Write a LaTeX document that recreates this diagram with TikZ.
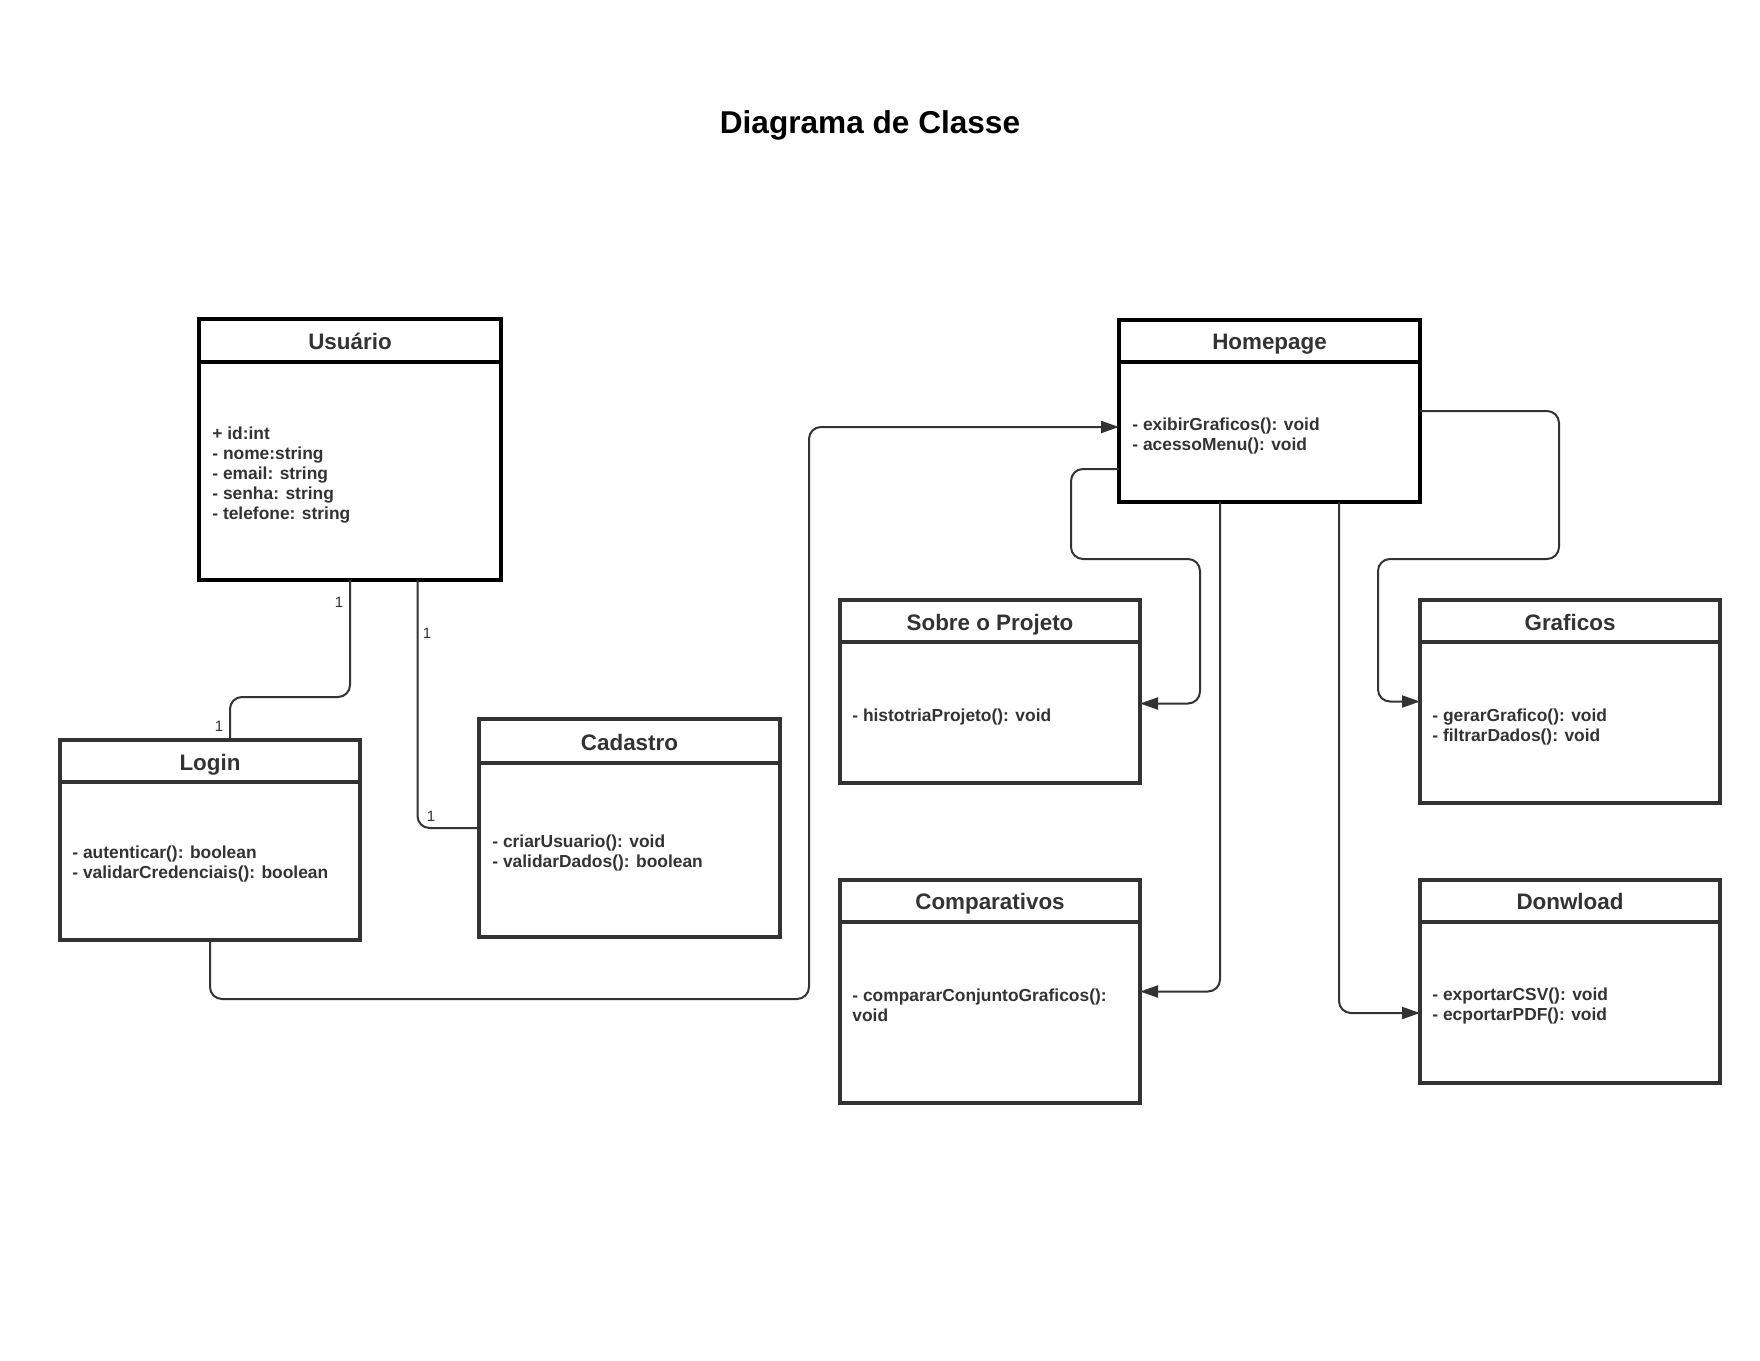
\documentclass[tikz,border=0pt]{standalone}
\usepackage{fontspec}
\setmainfont{Liberation Sans}
\usetikzlibrary{fit,arrows.meta}
\definecolor{ink}{HTML}{333333}
\begin{document}
\begin{tikzpicture}[x=0.5pt,y=-0.5pt,
  box/.style={draw=ink, line width=2pt, inner sep=0pt, outer sep=0pt},
  mainbox/.style={box, draw=black},
  divline/.style={draw=ink, line width=2pt},
  maindiv/.style={draw=black, line width=2pt},
  hdr/.style={font=\fontsize{11.2}{13}\selectfont\bfseries, text=ink, inner sep=0pt, text height=8pt, text depth=0pt},
  body/.style={font=\fontsize{8.7}{10}\selectfont\bfseries, text=ink, align=left, anchor=west, inner sep=0pt},
  conn/.style={draw=ink, line width=1pt, rounded corners=6pt},
  arr/.style={conn, -{Triangle[length=9pt,width=6pt]}},
  mult/.style={font=\fontsize{7.5}{9}\selectfont, text=ink, inner sep=0pt}]

\fill[white] (0,0) rectangle (1760,1360);
\useasboundingbox (0,0) rectangle (1760,1360);

\node[font=\fontsize{15.8}{18}\selectfont\bfseries, text=black, inner sep=0pt, text height=11.3pt, text depth=0pt] (title) at (870,122) {Diagrama de Classe};

% Usuario
\node[mainbox, fit={(199,319)(501,580)}] (usr) {};
\draw[maindiv] (199,362) -- (501,362);
\node[hdr] (usrh) at (350,341) {Usuário};
\node[body] (usrb) at (212,475) {+ id:int\\- nome:string\\- email: string\\- senha: string\\- telefone: string};

% Login
\node[box, fit={(60,740)(360,940)}] (login) {};
\draw[divline] (60,782) -- (360,782);
\node[hdr] (loginh) at (210,762) {Login};
\node[body] (loginb) at (72,863.5) {- autenticar(): boolean\\- validarCredenciais(): boolean};

% Cadastro
\node[box, fit={(479,719)(780,937)}] (cad) {};
\draw[divline] (479,763) -- (780,763);
\node[hdr] (cadh) at (629.5,742) {Cadastro};
\node[body] (cadb) at (492,852.5) {- criarUsuario(): void\\- validarDados(): boolean};

% Homepage
\node[mainbox, fit={(1119,320)(1420,502)}] (home) {};
\draw[maindiv] (1119,362) -- (1420,362);
\node[hdr] (homeh) at (1269.5,341) {Homepage};
\node[body] (homeb) at (1132,435.5) {- exibirGraficos(): void\\- acessoMenu(): void};

% Sobre o Projeto
\node[box, fit={(840,600)(1140,783)}] (sob) {};
\draw[divline] (840,642) -- (1140,642);
\node[hdr] (sobh) at (990,622) {Sobre o Projeto};
\node[body] (sobb) at (852,716.5) {- histotriaProjeto(): void};

% Graficos
\node[box, fit={(1420,600)(1720,803)}] (graf) {};
\draw[divline] (1420,642) -- (1720,642);
\node[hdr] (grafh) at (1570,622) {Graficos};
\node[body] (grafb) at (1432,726.5) {- gerarGrafico(): void\\- filtrarDados(): void};

% Comparativos
\node[box, fit={(840,880)(1140,1103)}] (comp) {};
\draw[divline] (840,922) -- (1140,922);
\node[hdr] (comph) at (990,901) {Comparativos};
\node[body] (compb) at (852,1005.5) {- compararConjuntoGraficos():\\void};

% Donwload
\node[box, fit={(1420,880)(1720,1083)}] (dl) {};
\draw[divline] (1420,922) -- (1720,922);
\node[hdr] (dlh) at (1570,901) {Donwload};
\node[body] (dlb) at (1432,1005.5) {- exportarCSV(): void\\- ecportarPDF(): void};

% connectors
\draw[conn] (usr.south) -- (350,697) -| ([xshift=10pt]login.north);
\draw[conn] ([xshift=33.75pt]usr.south) |- (cad.west);
\draw[arr] (login.south) |- (809,999) |- ([yshift=-8pt]home.west);
\draw[arr] ([yshift=-29pt]home.west) -| (1071,559) -- (1200,559) |- ([yshift=-6pt]sob.east);
\draw[arr] ([xshift=-24.75pt]home.south) |- (comp.east);
\draw[arr] ([xshift=34.75pt]home.south) |- ([yshift=-15.75pt]dl.west);
\draw[arr] (home.east) -| (1559,559) -- (1378,559) |- (graf.west);

% multiplicities
\node[mult] (m1) at (339,602) {1};
\node[mult] (m2) at (219,726) {1};
\node[mult] (m3) at (427,633) {1};
\node[mult] (m4) at (431,816) {1};
\end{tikzpicture}
\end{document}
